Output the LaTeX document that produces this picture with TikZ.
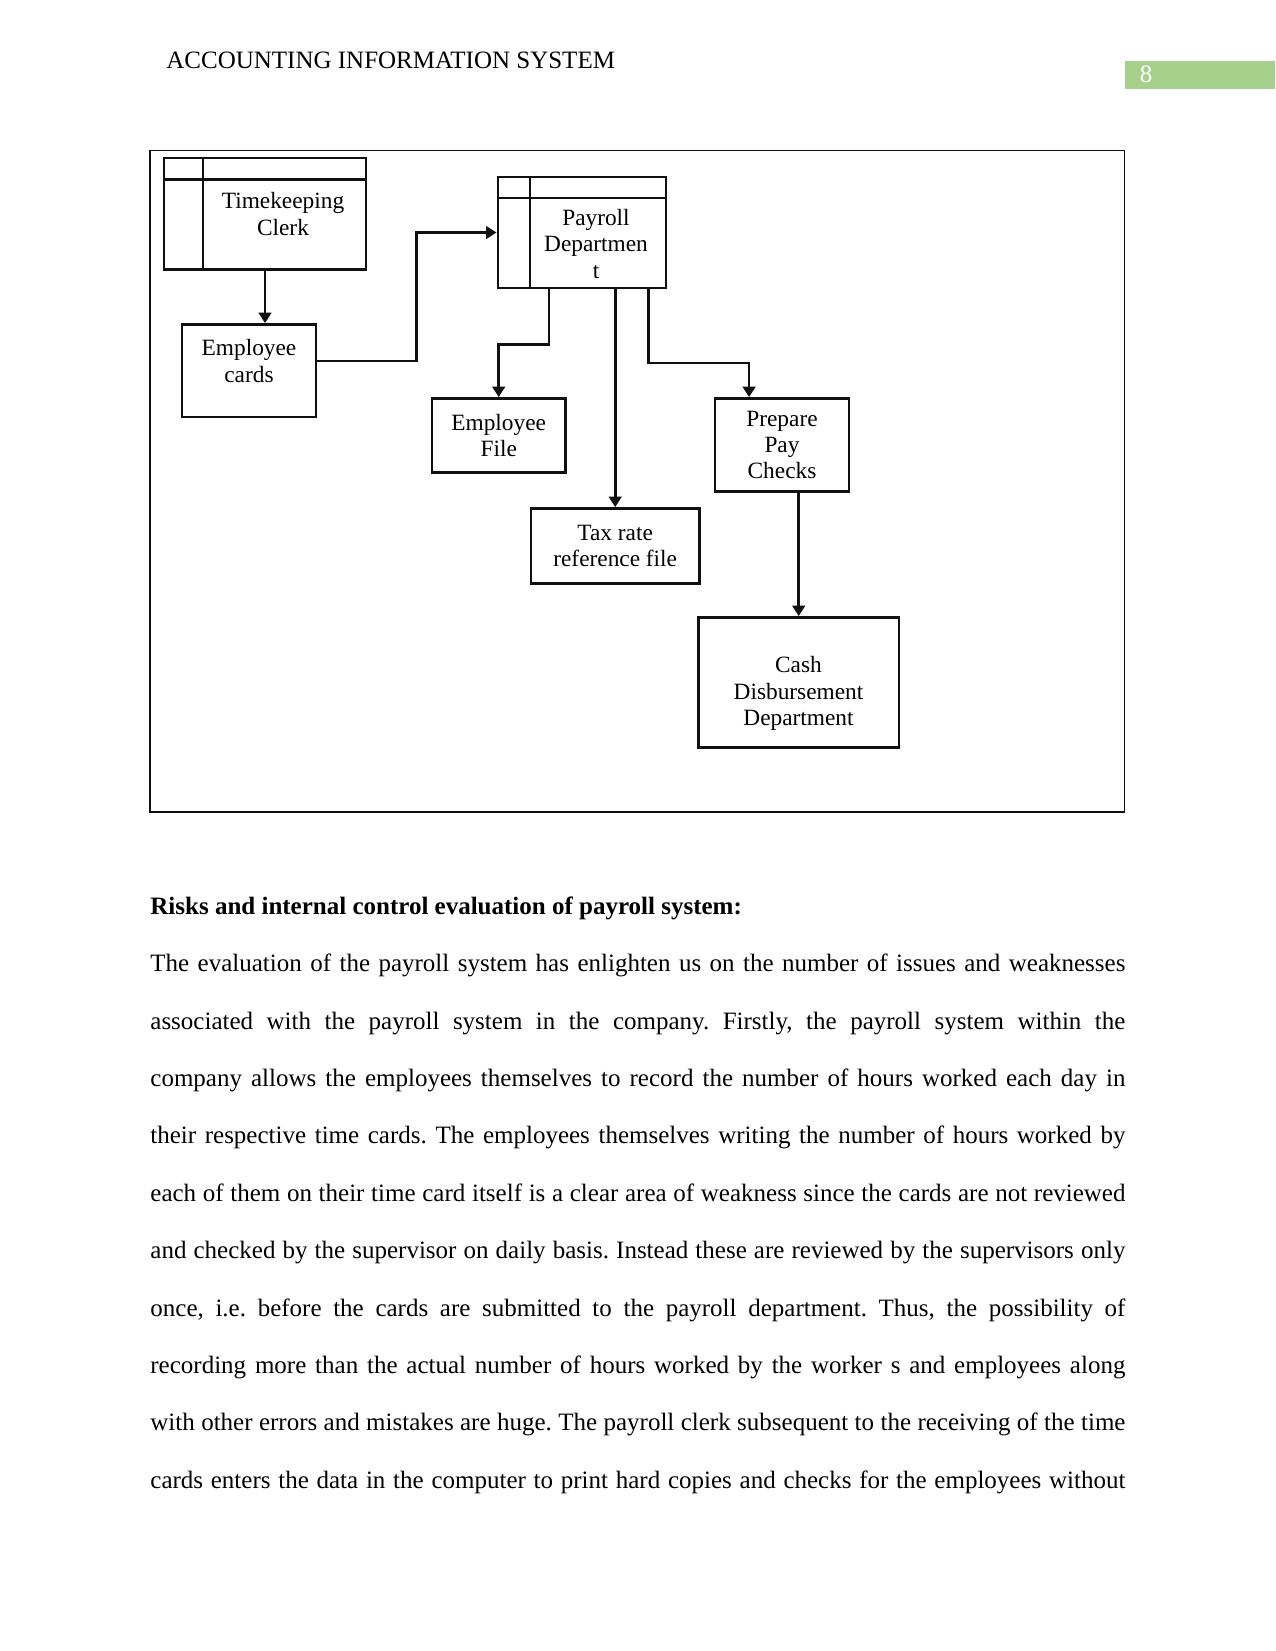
\documentclass[tikz,border=0pt]{standalone}
\usepackage{fontspec}
\setmainfont{Liberation Serif}
\usepackage{tikz}
\usetikzlibrary{arrows.meta,calc}
\usepackage{xcolor}
\definecolor{pgnum}{HTML}{A8D08D}
\definecolor{ink}{HTML}{111111}
\newcommand\diagfont{\fontsize{11.2}{12.7}\selectfont}
\newcommand\bodyfont{\fontsize{12}{13.8}\selectfont\frenchspacing}

\begin{document}
\begin{tikzpicture}[
  x=0.48pt, y=-0.48pt,
  >={Triangle[length=5pt, width=6pt]},
  box/.style={draw=ink, line width=1.15pt, inner sep=0pt, align=center, font=\diagfont},
  lbl/.style={inner sep=0pt, align=center, font=\diagfont},
  e/.style={->, line width=1.25pt, draw=ink},
  para/.style={inner sep=0pt, anchor=base west, font=\bodyfont}
]
\useasboundingbox (0,0) rectangle (1275,1651);
% page header
\node[para, font=\fontsize{12}{14}\selectfont] (hdr) at (166,68.3) {ACCOUNTING INFORMATION SYSTEM};
\fill[pgnum] (1125,60.7) rectangle (1275,89);
\node[inner sep=0pt, anchor=base, text=white, font=\fontsize{12}{14}\selectfont] (pg) at (1146,82.8) {8};
% diagram
\draw[line width=0.7pt, ink] (150,150.5) rectangle (1124.4,812);
\node[box, minimum width=96.7pt, minimum height=53.3pt] (tk) at (265,213.8) {};
\node[lbl] (tkT) at (283,214.2) {Timekeeping\\Clerk};
\node[box, minimum width=64.3pt, minimum height=44.6pt] (ec) at (248.8,370.8) {};
\node[lbl] (ecT) at (249,360.8) {Employee\\cards};
\node[box, minimum width=80.8pt, minimum height=53pt] (pd) at (581.9,232.5) {};
\node[lbl] (pdT) at (596,244) {Payroll\\Departmen\\t};
\node[box, minimum width=64.3pt, minimum height=35.7pt] (ef) at (498.7,435.5) {Employee\\File};
\node[box, minimum width=64.3pt, minimum height=44.8pt] (pc) at (782,445) {Prepare\\Pay\\Checks};
\node[box, minimum width=80.8pt, minimum height=36pt] (tx) at (615.2,545.8) {Tax rate\\reference file};
\node[box, minimum width=96.3pt, minimum height=62.4pt] (cd) at (798.7,682.3) {};
\node[lbl] (cdT) at (798.5,693.6) {Cash\\Disbursement\\Department};
% swimlane heads
\draw[line width=1.15pt, ink] ([yshift=-10.75pt]tk.north west) -- ([yshift=-10.75pt]tk.north east)
  ([xshift=19.3pt]tk.north west) -- ([xshift=19.3pt]tk.south west);
\draw[line width=1.15pt, ink] ([yshift=-10.6pt]pd.north west) -- ([yshift=-10.6pt]pd.north east)
  ([xshift=16pt]pd.north west) -- ([xshift=16pt]pd.south west);
% flows
\draw[e] (tk.south) -- (tk.south |- ec.north);
\draw[e] ([yshift=4.7pt]ec.east) -- ++(99.3,0) |- (pd.west);
\draw[e] ([xshift=-15.8pt]pd.south) -- ++(0,55.6) -| (ef.north);
\draw[e] (tx.north |- pd.south) -- (tx.north);
\draw[e] ([xshift=32.1pt]pd.south) -- ++(0,74) -| ([xshift=-15.8pt]pc.north);
\draw[e] (cd.north |- pc.south) -- (cd.north);
% text below
\node[para] (head) at (150,914.3) {\textbf{Risks and internal control evaluation of payroll system:}};
\foreach \lin [count=\i] in {
  {The evaluation of the payroll system has enlighten us on the number of issues and weaknesses},
  {associated with the payroll system in the company. Firstly, the payroll system within the},
  {company allows the employees themselves to record the number of hours worked each day in},
  {their respective time cards. The employees themselves writing the number of hours worked by},
  {each of them on their time card itself is a clear area of weakness since the cards are not reviewed},
  {and checked by the supervisor on daily basis. Instead these are reviewed by the supervisors only},
  {once, i.e. before the cards are submitted to the payroll department. Thus, the possibility of},
  {recording more than the actual number of hours worked by the worker s and employees along},
  {with other errors and mistakes are huge. The payroll clerk subsequent to the receiving of the time},
  {cards enters the data in the computer to print hard copies and checks for the employees without}}
  \node[para] (p\i) at (150,{971.7+57.4*(\i-1)}) {\makebox[468pt][s]{\lin}};
\end{tikzpicture}
\end{document}
